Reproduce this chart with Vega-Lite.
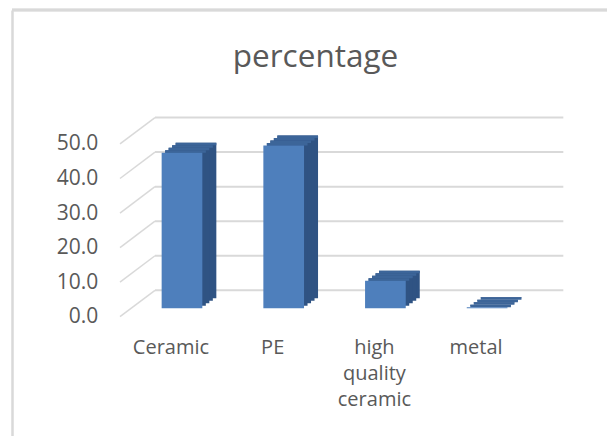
{
  "$schema": "https://vega.github.io/schema/vega-lite/v6.json",
  "width": 595,
  "height": 426,
  "autosize": "none",
  "padding": {"left": 12, "top": 10, "right": 0, "bottom": 0},
  "background": "white",
  "config": {
    "view": {"stroke": null},
    "font": "Open Sans",
    "axis": {"labelFont": "Open Sans", "titleFont": "Open Sans"}
  },
  "title": {
    "text": "percentage",
    "fontSize": 31.5,
    "font": "Open Sans",
    "fontWeight": "normal",
    "color": "#595959",
    "anchor": "middle",
    "frame": "group",
    "baseline": "alphabetic",
    "offset": -90,
    "dx": 6
  },
  "data": {
    "values": [
      {"material": "Ceramic", "percentage": 45.0},
      {"material": "PE", "percentage": 47.1},
      {"material": "high quality ceramic", "percentage": 8.0},
      {"material": "metal", "percentage": 0.3}
    ]
  },
  "layer": [
    {
      "mark": {"type": "rule", "color": "#d9d9d9", "strokeWidth": 2.5},
      "encoding": {
        "y": {"datum": 86.34, "type": "quantitative", "axis": null,
              "scale": {"domain": [-36.96, 86.34], "nice": false, "zero": false}}
      }
    },
    {
      "data": {"values": [{"v": 0}, {"v": 10}, {"v": 20}, {"v": 30}, {"v": 40}, {"v": 50}]},
      "mark": {"type": "rule", "color": "#d9d9d9", "strokeWidth": 2, "yOffset": -18, "y2Offset": -18, "xOffset": -27, "x2Offset": 76.2},
      "encoding": {
        "x": {"datum": "Ceramic", "type": "nominal", "axis": null,
              "scale": {"domain": ["Ceramic", "PE", "high quality ceramic", "metal"],
                        "range": [149.65, 495.45], "paddingInner": 0.6, "paddingOuter": 0}},
        "x2": {"datum": "metal"},
        "y": {"field": "v", "type": "quantitative", "axis": null},
        "y2": {"field": "v"}
      }
    },
    {
      "data": {"values": [{"v": 0}, {"v": 10}, {"v": 20}, {"v": 30}, {"v": 40}, {"v": 50}]},
      "mark": {"type": "rule", "color": "#d9d9d9", "strokeWidth": 1.5, "yOffset": 8.4, "y2Offset": -18, "xOffset": -62, "x2Offset": -27},
      "encoding": {
        "x": {"datum": "Ceramic", "type": "nominal", "axis": null},
        "x2": {"datum": "Ceramic"},
        "y": {"field": "v", "type": "quantitative", "axis": null},
        "y2": {"field": "v"}
      }
    },
    {
      "mark": {"type": "bar", "color": "#2f5383", "xOffset": 14, "yOffset": -10, "y2Offset": -10},
      "encoding": {
        "x": {"field": "material", "type": "nominal", "sort": null,
              "scale": {"domain": ["Ceramic", "PE", "high quality ceramic", "metal"],
                        "range": [149.65, 495.45], "paddingInner": 0.6, "paddingOuter": 0},
              "axis": null},
        "y": {"field": "percentage", "type": "quantitative",
              "axis": {"orient": "left", "title": null, "labels": false, "ticks": false, "grid": false,
                       "domain": true, "domainColor": "#d9d9d9", "domainWidth": 2.5, "offset": 0}},
        "y2": {"datum": 0}
      }
    },
    {
      "mark": {"type": "bar", "color": "#2f5383", "xOffset": 10.5, "yOffset": -7.5, "y2Offset": -7.5},
      "encoding": {
        "x": {"field": "material", "type": "nominal", "sort": null, "axis": null},
        "y": {"field": "percentage", "type": "quantitative", "axis": null},
        "y2": {"datum": 0}
      }
    },
    {
      "mark": {"type": "bar", "color": "#2f5383", "xOffset": 7, "yOffset": -5, "y2Offset": -5},
      "encoding": {
        "x": {"field": "material", "type": "nominal", "sort": null, "axis": null},
        "y": {"field": "percentage", "type": "quantitative", "axis": null},
        "y2": {"datum": 0}
      }
    },
    {
      "mark": {"type": "bar", "color": "#2f5383", "xOffset": 3.5, "yOffset": -2.5, "y2Offset": -2.5},
      "encoding": {
        "x": {"field": "material", "type": "nominal", "sort": null, "axis": null},
        "y": {"field": "percentage", "type": "quantitative", "axis": null},
        "y2": {"datum": 0}
      }
    },
    {
      "mark": {"type": "bar", "color": "#3c6599", "xOffset": 14, "yOffset": -10, "y2Offset": -7.5},
      "encoding": {
        "x": {"field": "material", "type": "nominal", "sort": null, "axis": null},
        "y": {"field": "percentage", "type": "quantitative", "axis": null},
        "y2": {"field": "percentage"}
      }
    },
    {
      "mark": {"type": "bar", "color": "#3c6599", "xOffset": 10.5, "yOffset": -7.5, "y2Offset": -5},
      "encoding": {
        "x": {"field": "material", "type": "nominal", "sort": null, "axis": null},
        "y": {"field": "percentage", "type": "quantitative", "axis": null},
        "y2": {"field": "percentage"}
      }
    },
    {
      "mark": {"type": "bar", "color": "#3c6599", "xOffset": 7, "yOffset": -5, "y2Offset": -2.5},
      "encoding": {
        "x": {"field": "material", "type": "nominal", "sort": null, "axis": null},
        "y": {"field": "percentage", "type": "quantitative", "axis": null},
        "y2": {"field": "percentage"}
      }
    },
    {
      "mark": {"type": "bar", "color": "#3c6599", "xOffset": 3.5, "yOffset": -2.5, "y2Offset": 0},
      "encoding": {
        "x": {"field": "material", "type": "nominal", "sort": null, "axis": null},
        "y": {"field": "percentage", "type": "quantitative", "axis": null},
        "y2": {"field": "percentage"}
      }
    },
    {
      "mark": {"type": "bar", "color": "#4e7fbc"},
      "encoding": {
        "x": {"field": "material", "type": "nominal", "sort": null,
              "axis": {"orient": "bottom", "title": null, "domain": false, "ticks": false, "grid": false,
                       "offset": -99, "labelPadding": 0, "labelAngle": 0, "labelFontSize": 20,
                       "labelColor": "#595959", "labelBaseline": "top", "labelLineHeight": 26,
                       "labelOffset": -11, "labelExpr": "split(datum.label, ' ')",
                       "labelOverlap": false, "labelBound": false, "labelFlush": false}},
        "y": {"field": "percentage", "type": "quantitative",
              "axis": {"orient": "left", "title": null, "domain": false, "ticks": false, "grid": false,
                       "offset": -87.7, "labelPadding": 2, "labelFontSize": 21, "labelColor": "#595959",
                       "values": [0, 10, 20, 30, 40, 50], "format": ".1f", "labelOffset": 8.4,
                       "labelOverlap": false, "labelBound": false, "labelFlush": false}},
        "y2": {"datum": 0}
      }
    }
  ],
  "resolve": {"axis": {"x": "independent", "y": "independent"}}
}
